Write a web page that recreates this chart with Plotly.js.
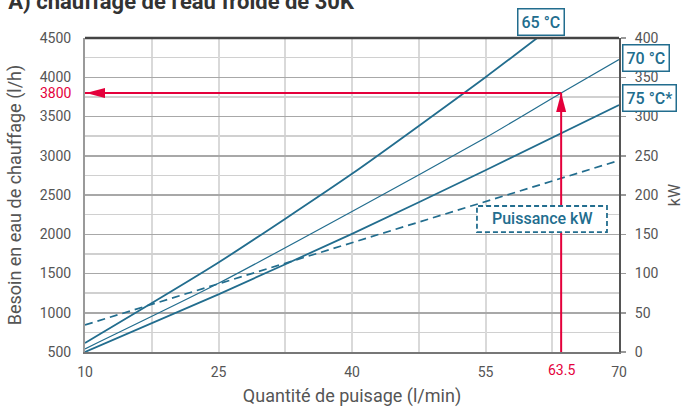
<!DOCTYPE html>
<html><head><meta charset="utf-8">
<script src="https://cdn.plot.ly/plotly-3.0.1.min.js"></script>
<style>html,body{margin:0;padding:0;background:#fff}</style>
</head><body><div id="chart" style="width:684px;height:407px"></div>
<script>
// ---- data ----
const flow65 = [10, 25, 40, 55, 60.8];
const need65 = [615, 1640, 2770, 4000, 4500];
const flow70 = [10, 25, 40, 55, 63.5, 70];
const need70 = [540, 1375, 2290, 3230, 3800, 4225];
const flow75 = [10, 25, 40, 55, 70];
const need75 = [500, 1235, 2005, 2815, 3645];
const flowKW = [10, 40, 70];
const powerKW = [34.5, 139, 244];
const curveLabels = ['65 °C', '70 °C', '75 °C*'];
const powerLabel = 'Puissance kW';
const exampleFlow = [63.5];
const exampleNeed = [3800];
const xRange = [10, 70];
const yRange = [500, 4500];
const y2Range = [0, 400];
const xTickVals = [10, 25, 40, 55, 70];

const TEAL = '#226d8e';
const RED = '#e4003b';
const FONT = 'Roboto, sans-serif';

const traces = [
  {x: flow65, y: need65, mode: 'lines', line: {color: TEAL, width: 1.8, shape: 'spline', smoothing: 0.6}, hoverinfo: 'skip'},
  {x: flow70, y: need70, mode: 'lines', line: {color: TEAL, width: 1.2, shape: 'spline', smoothing: 0.6}, hoverinfo: 'skip'},
  {x: flow75, y: need75, mode: 'lines', line: {color: TEAL, width: 1.8, shape: 'spline', smoothing: 0.6}, hoverinfo: 'skip'},
  {x: flowKW, y: powerKW, yaxis: 'y2', mode: 'lines', line: {color: TEAL, width: 1.7, dash: '8px,5px'}, hoverinfo: 'skip'}
];

const ex = exampleFlow[0], ey = exampleNeed[0];

const layout = {
  width: 684, height: 407,
  margin: {l: 85, r: 65, t: 38, b: 55},
  paper_bgcolor: '#fff', plot_bgcolor: '#fff',
  showlegend: false,
  font: {family: FONT, color: '#555', size: 14},
  title: {text: "A) chauffage de l'eau froide de 30K", font: {family: FONT, size: 22, color: '#333', weight: 'bold'},
          xref: 'container', x: 0.012, xanchor: 'left', yref: 'container', y: 0.978, yanchor: 'bottom'},
  xaxis: {
    range: xRange, tickmode: 'array', tickvals: xTickVals,
    showgrid: true, gridcolor: '#d9d9d9', gridwidth: 2,
    minor: {tickmode: 'linear', tick0: 10, dtick: 7.5, showgrid: true, gridcolor: '#d9d9d9', gridwidth: 2, ticks: ''},
    showline: true, linecolor: '#777', linewidth: 2, ticks: '', zeroline: false,
    tickfont: {size: 14, color: '#555'}, ticklabelstandoff: 6,
    title: {text: 'Quantité de puisage (l/min)', font: {size: 18, color: '#555'}, standoff: 13}
  },
  yaxis: {
    range: yRange, tickmode: 'linear', tick0: 500, dtick: 500,
    showgrid: true, gridcolor: '#a8a8a8', gridwidth: 1.5,
    minor: {tickmode: 'linear', tick0: 500, dtick: 250, showgrid: true, gridcolor: '#d0d0d0', gridwidth: 1.5, ticks: ''},
    showline: true, linecolor: '#9a9a9a', linewidth: 2, ticks: '', zeroline: false,
    tickfont: {size: 14, color: '#555'}, ticklabelstandoff: 9,
    title: {text: 'Besoin en eau de chauffage (l/h)', font: {size: 18, color: '#555'}, standoff: 13}
  },
  yaxis2: {
    overlaying: 'y', side: 'right', range: y2Range, tickmode: 'linear', tick0: 0, dtick: 50,
    showgrid: false, zeroline: false,
    showline: true, linecolor: '#555', linewidth: 2,
    ticks: 'outside', ticklen: 5, tickwidth: 1.5, tickcolor: '#999',
    tickfont: {size: 14, color: '#555'}, ticklabelstandoff: 6,
    title: {text: 'kW', font: {size: 16, color: '#555'}, standoff: 13}
  },
  shapes: [
    {type: 'line', xref: 'paper', yref: 'paper', x0: 0, x1: 1, y0: 1, y1: 1, line: {color: '#444', width: 2.5}, layer: 'above'},
    {type: 'line', xref: 'x', yref: 'y', x0: xRange[0], x1: ex, y0: ey, y1: ey, line: {color: RED, width: 2}, layer: 'above'},
    {type: 'line', xref: 'x', yref: 'y', x0: ex, x1: ex, y0: yRange[0], y1: ey, line: {color: RED, width: 2}, layer: 'above'},
    {type: 'path', xref: 'x', yref: 'y', xsizemode: 'pixel', ysizemode: 'pixel', xanchor: xRange[0], yanchor: ey,
     path: 'M1,0 L20,5 L20,-5 Z', fillcolor: RED, line: {width: 0}, layer: 'above'},
    {type: 'path', xref: 'x', yref: 'y', xsizemode: 'pixel', ysizemode: 'pixel', xanchor: ex, yanchor: ey,
     path: 'M0,0 L-5,-19 L5,-19 Z', fillcolor: RED, line: {width: 0}, layer: 'above'},
    {type: 'rect', xref: 'paper', yref: 'paper', x0: 0.734, x1: 0.9775, y0: 0.382, y1: 0.465,
     fillcolor: '#fff', line: {color: TEAL, width: 1.8, dash: '5px,3px'}, layer: 'above'}
  ],
  annotations: [
    {text: curveLabels[0], xref: 'paper', yref: 'paper', x: 0.854, y: 1.051, xanchor: 'center', yanchor: 'middle', showarrow: false,
     font: {size: 16, color: TEAL, weight: 500}, bgcolor: '#fff', bordercolor: TEAL, borderwidth: 1.5, borderpad: 3},
    {text: curveLabels[1], xref: 'paper', yref: 'paper', x: 1.005, y: 0.936, xanchor: 'left', yanchor: 'middle', showarrow: false,
     font: {size: 16, color: TEAL, weight: 500}, bgcolor: '#fff', bordercolor: TEAL, borderwidth: 1.5, borderpad: 3},
    {text: curveLabels[2], xref: 'paper', yref: 'paper', x: 1.005, y: 0.8105, xanchor: 'left', yanchor: 'middle', showarrow: false,
     font: {size: 16, color: TEAL, weight: 500}, bgcolor: '#fff', bordercolor: TEAL, borderwidth: 1.5, borderpad: 3},
    {text: powerLabel, xref: 'paper', yref: 'paper', x: 0.856, y: 0.4236, xanchor: 'center', yanchor: 'middle', showarrow: false,
     font: {size: 16, color: TEAL, weight: 500}},
    {text: String(ey), xref: 'paper', yref: 'y', x: 0, y: ey, xanchor: 'right', yanchor: 'middle', xshift: -11, showarrow: false,
     font: {size: 14, color: RED}},
    {text: String(ex), xref: 'x', yref: 'paper', x: ex, y: 0, xanchor: 'center', yanchor: 'top', yshift: -8, showarrow: false,
     font: {size: 14, color: RED}}
  ]
};

Plotly.newPlot('chart', traces, layout, {displayModeBar: false, staticPlot: true});
</script>
</body></html>
